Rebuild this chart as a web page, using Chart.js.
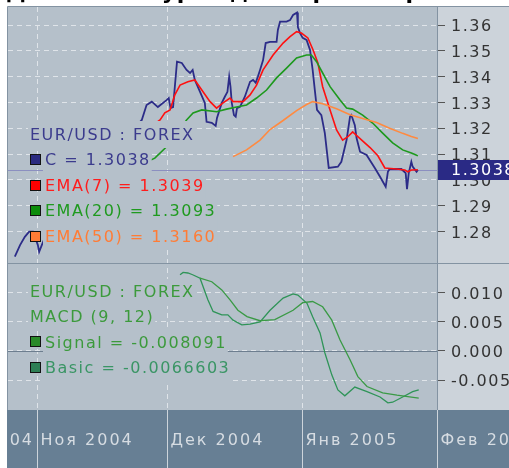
<!DOCTYPE html>
<html>
<head>
<meta charset="utf-8">
<script src="https://cdn.jsdelivr.net/npm/chart.js@4.4.1/dist/chart.umd.min.js"></script>
<style>
  html, body { margin: 0; padding: 0; background: #fff; }
  #wrap { position: relative; width: 509px; height: 468px; }
</style>
</head>
<body>
<div id="wrap"><canvas id="chart" width="509" height="468"></canvas></div>
<script>
// x values are days counted from 1 Nov 2004
const closeDays = [-5.1,-3.9,-2.8,-1.8,-0.9,0.2,0.5,1.1,3.0,8.7,14.5,20.2,24.1,25.2,26.4,27.8,29.8,30.3,30.7,31.3,32.2,33.3,34.4,35.2,35.8,36.3,37.5,38.6,39.0,40.2,41.1,41.4,42.5,43.2,43.8,44.2,44.5,44.8,45.3,45.7,46.0,46.7,47.8,49.0,49.7,50.3,50.8,51.3,52.0,52.6,53.6,55.1,55.4,55.9,57.4,58.2,58.9,59.8,60.0,60.5,61.1,62.0,62.8,63.4,63.9,64.4,65.4,66.2,67.1,69.2,70.0,71.2,72.0,72.3,73.1,73.5,74.3,75.8,77.7,78.9,80.2,80.7,81.1,83.8,84.8,85.1,85.5,86.1,86.4,87.3,87.6];
const closeValues = [1.2702,1.2747,1.2779,1.2799,1.2799,1.2747,1.2721,1.2747,1.2825,1.2922,1.3077,1.3155,1.3232,1.3290,1.3303,1.3282,1.3309,1.3317,1.3278,1.3282,1.3458,1.3453,1.3426,1.3414,1.3426,1.3387,1.3341,1.3298,1.3225,1.3221,1.3209,1.3240,1.3298,1.3322,1.3341,1.3400,1.3361,1.3298,1.3251,1.3245,1.3278,1.3283,1.3322,1.3380,1.3387,1.3376,1.3400,1.3426,1.3464,1.3530,1.3535,1.3535,1.3581,1.3613,1.3613,1.3619,1.3639,1.3648,1.3592,1.3569,1.3550,1.3542,1.3503,1.3426,1.3348,1.3271,1.3251,1.3181,1.3046,1.3051,1.3070,1.3154,1.3245,1.3251,1.3212,1.3162,1.3109,1.3096,1.3046,1.3012,1.2973,1.3031,1.3042,1.3042,1.3026,1.2964,1.3026,1.3070,1.3051,1.3031,1.3038];

const ema7Days = [19.1,23.7,28.3,29.4,30.6,31.7,32.9,34.7,36.3,37.9,39.8,41.3,42.8,44.4,45.1,47.4,49.0,50.5,52.0,54.3,56.6,58.2,59.7,60.8,62.3,63.5,64.6,65.7,67.4,68.9,70.3,71.5,72.6,74.3,76.6,78.4,80.0,82.7,84.6,85.3,86.1,87.6];
const ema7Values = [1.3116,1.3174,1.3232,1.3260,1.3271,1.3329,1.3367,1.3380,1.3387,1.3348,1.3303,1.3278,1.3298,1.3317,1.3303,1.3303,1.3329,1.3367,1.3426,1.3484,1.3530,1.3555,1.3574,1.3569,1.3550,1.3503,1.3453,1.3361,1.3271,1.3193,1.3154,1.3167,1.3186,1.3160,1.3125,1.3093,1.3046,1.3042,1.3038,1.3031,1.3038,1.3039];

const ema20Days = [19.1,23.7,27.1,29.8,34.4,35.9,37.9,41.3,43.6,45.9,48.2,50.5,52.8,55.1,57.4,59.7,62.0,63.1,64.3,65.7,67.4,69.7,71.2,72.6,74.9,77.2,79.5,81.8,84.1,86.1,87.6];
const ema20Values = [1.3019,1.3057,1.3084,1.3128,1.3232,1.3259,1.3271,1.3264,1.3274,1.3282,1.3290,1.3317,1.3348,1.3395,1.3433,1.3472,1.3484,1.3484,1.3458,1.3414,1.3361,1.3309,1.3278,1.3274,1.3251,1.3220,1.3181,1.3143,1.3116,1.3104,1.3093];

const ema50Days = [45.1,48.2,51.3,53.6,56.6,59.7,62.0,63.4,65.7,68.9,72.0,74.9,78.1,81.1,84.1,86.1,87.6];
const ema50Values = [1.3090,1.3116,1.3154,1.3195,1.3230,1.3268,1.3292,1.3303,1.3295,1.3275,1.3252,1.3238,1.3222,1.3200,1.3180,1.3168,1.3160];

const basicDays = [32.9,33.6,34.7,35.8,37.5,39.3,40.5,42.5,43.9,45.1,47.1,49.0,51.3,53.6,56.6,58.9,60.0,62.1,63.4,65.1,66.2,67.8,69.2,70.8,73.1,75.9,78.9,80.7,81.8,84.1,86.4,87.8];
const basicValues = [0.0131,0.0135,0.0134,0.0131,0.0125,0.0088,0.0068,0.0062,0.0062,0.0053,0.0045,0.0046,0.0050,0.0070,0.0091,0.0098,0.0096,0.0082,0.0059,0.0031,-0.0003,-0.0041,-0.0067,-0.0077,-0.0062,-0.0070,-0.0079,-0.0089,-0.0088,-0.0079,-0.0070,-0.0067];

const signalDays = [37.5,40.2,42.5,44.4,46.2,48.3,51.3,54.7,58.9,61.1,63.4,65.7,67.8,69.7,72.0,73.8,75.9,79.5,82.8,85.7,87.8];
const signalValues = [0.0125,0.0119,0.0105,0.0088,0.0070,0.0059,0.0052,0.0054,0.0070,0.0083,0.0085,0.0076,0.0053,0.0019,-0.0015,-0.0044,-0.0061,-0.0072,-0.0076,-0.0079,-0.0081];

const priceTicks = [1.28, 1.29, 1.30, 1.31, 1.32, 1.33, 1.34, 1.35, 1.36];
const macdTicks = [-0.005, 0, 0.005, 0.010];
const monthDays = [-31, 0, 30, 61, 92];
const monthLabels = ["Окт 2004", "Ноя 2004", "Дек 2004", "Янв 2005", "Фев 2005"];

const lastClose = 1.3038;
const lastEma7 = 1.3039, lastEma20 = 1.3093, lastEma50 = 1.3160;
const lastSignal = "-0.008091", lastBasic = "-0.0066603";

const plotBg = "#b5c0ca";
const axisBg = "#ccd3da";
const bandBg = "#677f94";
const gridColor = "#dfe4e9";
const frameColor = "#8393a2";
const FONT = '16px "DejaVu Sans"';

function pts(days, values) {
  return days.map((d, i) => ({ x: d, y: values[i] }));
}

function line(label, days, values, color, axis, width) {
  return {
    label: label,
    data: pts(days, values),
    borderColor: color,
    borderWidth: width || 1.6,
    yAxisID: axis,
    pointRadius: 0,
    fill: false,
  };
}

const priceLegend = [
  { text: "EUR/USD : FOREX", color: "#3b3b8d" },
  { text: "C = " + lastClose.toFixed(4), color: "#3b3b8d", swatch: "#2a2a80" },
  { text: "EMA(7) = " + lastEma7.toFixed(4), color: "#ff1c1c", swatch: "#ff0000" },
  { text: "EMA(20) = " + lastEma20.toFixed(4), color: "#1f9a1f", swatch: "#0b8c0b" },
  { text: "EMA(50) = " + lastEma50.toFixed(4), color: "#ff7c36", swatch: "#ff7c36" },
];
const macdLegend = [
  { text: "EUR/USD : FOREX", color: "#3c9a3c" },
  { text: "MACD (9, 12)", color: "#3c9a3c" },
  { text: "Signal = " + lastSignal, color: "#3c9a3c", swatch: "#2a8a2a" },
  { text: "Basic = " + lastBasic, color: "#3a9565", swatch: "#2d7f55" },
];

function drawLegend(ctx, rows, y0, step) {
  ctx.font = FONT;
  ctx.textBaseline = "middle";
  rows.forEach((r, i) => {
    const y = y0 + i * step;
    const tx = r.swatch ? 45 : 30;
    const w = ctx.measureText(r.text).width;
    ctx.fillStyle = plotBg;
    ctx.fillRect(tx - 2, Math.floor(y - step / 2), w + 3, Math.ceil(step) + 1);
    if (r.swatch) {
      ctx.fillStyle = r.swatch;
      ctx.fillRect(30.5, Math.round(y) - 5.5, 10, 10);
      ctx.strokeStyle = "#111";
      ctx.lineWidth = 1;
      ctx.strokeRect(30.5, Math.round(y) - 5.5, 10, 10);
    }
    ctx.fillStyle = r.color;
    ctx.fillText(r.text, tx, y + 1);
  });
}

const panelsPlugin = {
  id: "panels",
  beforeDraw(chart) {
    const { ctx, chartArea: a } = chart;
    ctx.letterSpacing = "1.5px";
    ctx.save();
    ctx.fillStyle = "#ffffff";
    ctx.fillRect(0, 0, chart.width, chart.height);
    ctx.fillStyle = plotBg;
    ctx.fillRect(a.left, a.top, a.right - a.left, a.bottom - a.top);
    ctx.fillStyle = axisBg;
    ctx.fillRect(a.right, a.top, chart.width - a.right, a.bottom - a.top);
    ctx.fillStyle = bandBg;
    ctx.fillRect(a.left - 1, a.bottom, chart.width, chart.height - a.bottom);
    // page heading, almost entirely above the top edge
    ctx.fillStyle = "#000";
    ctx.font = 'bold 22px "DejaVu Sans"';
    ctx.letterSpacing = "0.5px";
    ctx.textBaseline = "alphabetic";
    ctx.fillText("Динамика курса доллара к евро", 6, -1);
    ctx.restore();
  },
  beforeDatasetsDraw(chart) {
    const { ctx, chartArea: a, scales } = chart;
    ctx.save();
    ctx.lineWidth = 1;
    const yc = Math.round(scales.y.getPixelForValue(lastClose)) + 0.5;
    ctx.strokeStyle = "#8b8fc0";
    ctx.beginPath();
    ctx.moveTo(a.left, yc);
    ctx.lineTo(a.right, yc);
    ctx.stroke();
    const y0 = Math.round(scales.y2.getPixelForValue(0)) + 0.5;
    ctx.strokeStyle = "#6d7e8f";
    ctx.beginPath();
    ctx.moveTo(a.left, y0);
    ctx.lineTo(a.right, y0);
    ctx.stroke();
    ctx.restore();
  },
  afterDatasetsDraw(chart) {
    const ctx = chart.ctx;
    ctx.save();
    drawLegend(ctx, priceLegend, 134.5, 25.5);
    drawLegend(ctx, macdLegend, 292, 25.2);
    ctx.restore();
  },
  afterDraw(chart) {
    const { ctx, chartArea: a, scales } = chart;
    ctx.save();
    // frame
    ctx.strokeStyle = frameColor;
    ctx.lineWidth = 1;
    ctx.beginPath();
    ctx.moveTo(a.left - 0.5, a.top - 0.5);
    ctx.lineTo(chart.width, a.top - 0.5);
    ctx.moveTo(a.left - 0.5, a.top - 0.5);
    ctx.lineTo(a.left - 0.5, a.bottom);
    ctx.moveTo(a.right + 0.5, a.top);
    ctx.lineTo(a.right + 0.5, a.bottom);
    const sep = Math.round(scales.y.bottom) + 0.5;
    ctx.moveTo(a.left, sep);
    ctx.lineTo(chart.width, sep);
    ctx.stroke();

    // last close marker on the price axis
    const yc = Math.round(scales.y.getPixelForValue(lastClose));
    ctx.fillStyle = "#2a2a85";
    ctx.fillRect(a.right + 1, yc - 10, chart.width - a.right, 20);
    ctx.fillStyle = "#ffffff";
    ctx.font = FONT;
    ctx.textBaseline = "middle";
    ctx.fillText(lastClose.toFixed(4), a.right + 14, yc + 1);

    // month band
    const x = scales.x;
    ctx.beginPath();
    ctx.rect(a.left - 1, a.bottom, chart.width, chart.height - a.bottom);
    ctx.clip();
    ctx.strokeStyle = "#cdd4db";
    ctx.letterSpacing = "2px";
    monthDays.forEach((d, i) => {
      const px = Math.round(x.getPixelForValue(d)) + 0.5;
      ctx.beginPath();
      ctx.moveTo(px, a.bottom);
      ctx.lineTo(px, chart.height);
      ctx.stroke();
      ctx.fillStyle = "#d6dce2";
      const label = monthLabels[i];
      if (px < a.left && i + 1 < monthDays.length) {
        ctx.textAlign = "right";
        ctx.fillText(label, x.getPixelForValue(monthDays[i + 1]) - 3, 441);
      } else {
        ctx.textAlign = "left";
        ctx.fillText(label, px + 3, 441);
      }
    });
    ctx.restore();
  },
};

const yCommon = {
  position: "right",
  stack: "panes",
  afterFit: (s) => { s.width = 72; s.paddingTop = 0; s.paddingBottom = 0; },
  ticks: { color: "#333", font: { family: "DejaVu Sans", size: 16 }, padding: 6, labelOffset: 2, autoSkip: false },
  grid: { color: gridColor, lineWidth: 1, drawTicks: true, tickLength: 8, tickColor: "#555" },
  border: { display: false, dash: [5, 4] },
};

new Chart(document.getElementById("chart"), {
  type: "line",
  data: {
    datasets: [
      line("EMA(50)", ema50Days, ema50Values, "#ff8a40", "y"),
      line("EMA(20)", ema20Days, ema20Values, "#1d991d", "y"),
      line("EMA(7)", ema7Days, ema7Values, "#ff1010", "y"),
      line("C", closeDays, closeValues, "#2c2c88", "y", 1.8),
      line("Signal", signalDays, signalValues, "#3a9a45", "y2", 1.3),
      line("Basic", basicDays, basicValues, "#2f9458", "y2", 1.3),
    ],
  },
  options: {
    responsive: false,
    animation: false,
    devicePixelRatio: 1,
    layout: { padding: { top: 7, left: 8, right: 0, bottom: 0 } },
    plugins: { legend: { display: false }, tooltip: { enabled: false } },
    scales: {
      x: {
        type: "linear",
        min: -6.67,
        max: 92,
        afterBuildTicks: (s) => {
          s.ticks = monthDays.filter((d) => d >= s.min && d <= s.max).map((v) => ({ value: v }));
        },
        afterFit: (s) => { s.height = 58; s.paddingLeft = 0; s.paddingRight = 0; },
        ticks: { display: false },
        grid: { color: gridColor, drawTicks: false },
        border: { display: false, dash: [5, 4] },
      },
      y: Object.assign({}, yCommon, {
        min: 1.26776,
        max: 1.36698,
        stackWeight: 256,
        afterBuildTicks: (s) => { s.ticks = priceTicks.map((v) => ({ value: v })); },
        ticks: Object.assign({}, yCommon.ticks, { callback: (v) => v.toFixed(2) }),
      }),
      y2: Object.assign({}, yCommon, {
        min: -0.01014,
        max: 0.01512,
        stackWeight: 147,
        afterBuildTicks: (s) => { s.ticks = macdTicks.map((v) => ({ value: v })); },
        ticks: Object.assign({}, yCommon.ticks, { callback: (v) => v.toFixed(3) }),
      }),
    },
  },
  plugins: [panelsPlugin],
});
</script>
</body>
</html>
